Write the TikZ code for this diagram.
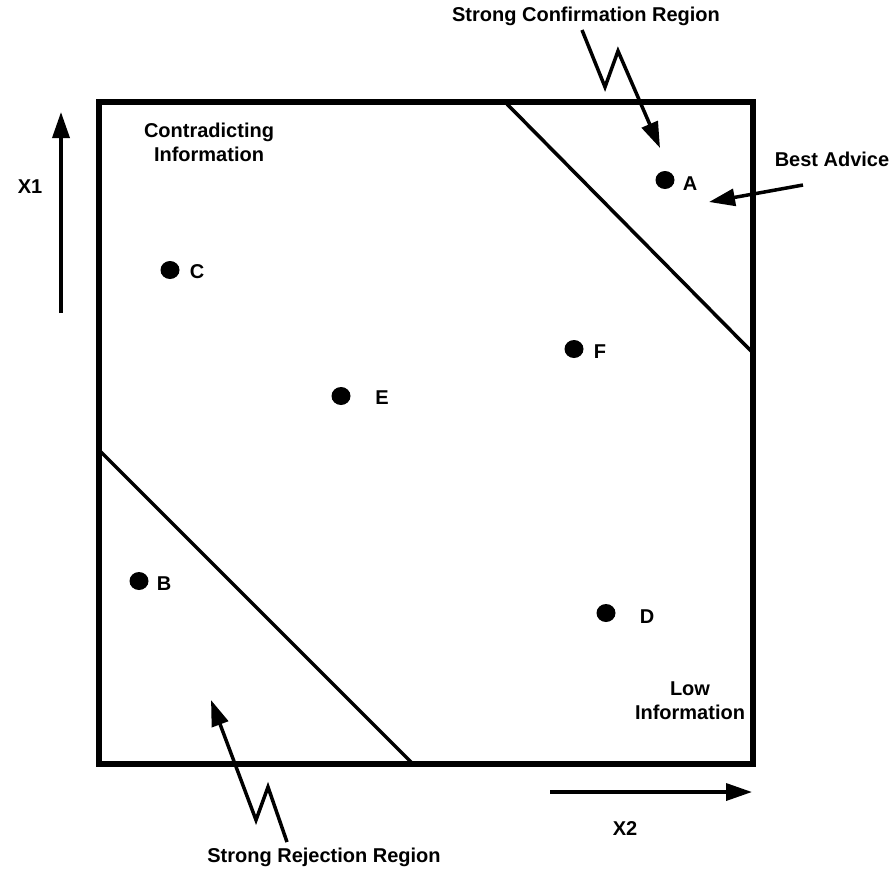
\documentclass[tikz,border=0pt]{standalone}
\usepackage{fontspec}
\setmainfont{Liberation Sans}
\usetikzlibrary{arrows.meta,shapes.geometric}
\begin{document}
\begin{tikzpicture}[x=1pt,y=-1pt,
  lbl/.style={font=\fontsize{20}{24}\selectfont\bfseries, inner sep=0pt, align=center},
  dot/.style={ellipse, fill=black, minimum width=19pt, minimum height=18pt, inner sep=0pt},
  arr/.style={line width=3.5pt, -{Triangle[length=26pt,width=17pt]}},
  diag/.style={line width=3.5pt}]
\useasboundingbox (0,0) rectangle (893,871);
\coordinate (tl) at (99,102);
\coordinate (br) at (753,764);
\draw[line width=5.5pt] (tl) rectangle (br);
\coordinate (d1a) at (505,102);
\coordinate (d1b) at (753,353);
\coordinate (d2a) at (99,450);
\coordinate (d2b) at (413,764);
\draw[diag] (d1a) -- (d1b);
\draw[diag] (d2a) -- (d2b);
% dots
\node[dot] (A) at (665,180) {};
\node[lbl] (Al) at (690,184) {A};
\node[dot] (C) at (170,270) {};
\node[lbl] (Cl) at (197,272) {C};
\node[dot] (F) at (574,349) {};
\node[lbl] (Fl) at (600,352) {F};
\node[dot] (E) at (341,396) {};
\node[lbl] (El) at (382,398) {E};
\node[dot] (B) at (139,581) {};
\node[lbl] (Bl) at (164,584) {B};
\node[dot] (D) at (606,613) {};
\node[lbl] (Dl) at (647,617) {D};
% labels
\node[lbl] (contra) at (209,142) {Contradicting\\Information};
\node[lbl] (low) at (690,701) {Low\\Information};
\node[lbl] (scr) at (586,16) {Strong Confirmation Region};
\node[lbl] (srr) at (324,857) {Strong Rejection Region};
\node[lbl] (best) at (832,159) {Best Advice};
\node[lbl] (x1) at (30,187) {X1};
\node[lbl] (x2) at (625,828) {X2};
% axes
\coordinate (x1s) at (61,313);
\coordinate (x1e) at (61,112);
\draw[arr] (x1s) -- (x1e);
\coordinate (x2s) at (550,792);
\coordinate (x2e) at (752,792);
\draw[arr] (x2s) -- (x2e);
% best advice arrow
\coordinate (bs) at (803,185);
\coordinate (be) at (709,202);
\draw[arr] (bs) -- (be);
% lightning arrows
\coordinate (l1a) at (582,30);
\coordinate (l1b) at (605,87);
\coordinate (l1c) at (618,51);
\coordinate (l1d) at (660,148);
\draw[arr, line join=miter] (l1a) -- (l1b) -- (l1c) -- (l1d);
\coordinate (l2a) at (287,842);
\coordinate (l2b) at (268,787);
\coordinate (l2c) at (256,820);
\coordinate (l2d) at (211,700);
\draw[arr, line join=miter] (l2a) -- (l2b) -- (l2c) -- (l2d);
\end{tikzpicture}
\end{document}
